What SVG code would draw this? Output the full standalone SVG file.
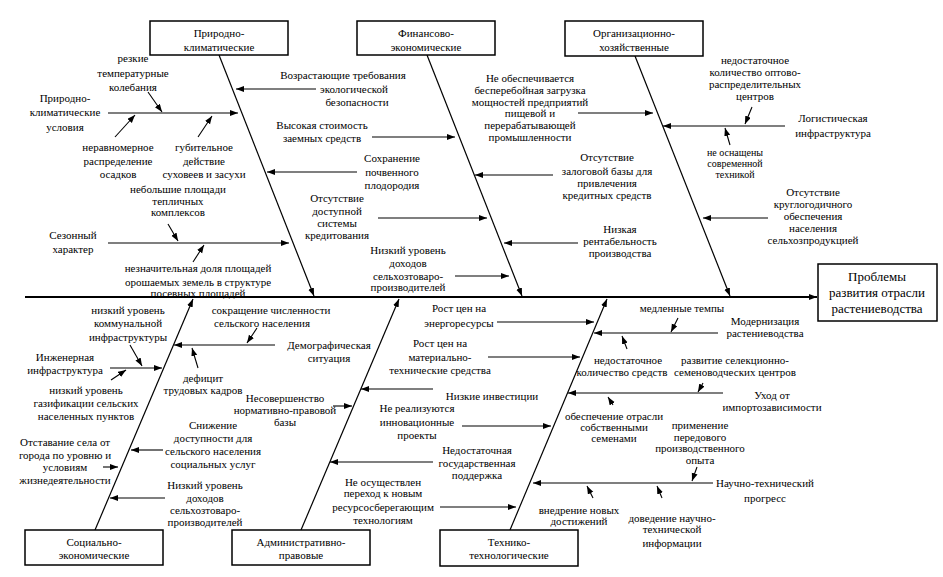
<svg xmlns="http://www.w3.org/2000/svg" width="943" height="577" viewBox="0 0 943 577">
<style>
.t{font-family:"Liberation Serif","Times New Roman",serif;font-size:11px;fill:#000;text-anchor:middle}
.big{font-size:13px}
.sm{font-size:10px}
.box{fill:#fff;stroke:#000;stroke-width:1.5}
.c line{stroke:#000;stroke-width:1.1;marker-end:url(#ah)}
.c .bone{stroke-width:1.2}
.c .spine{stroke-width:1.8}
</style>
<defs>
<marker id="ah" markerUnits="userSpaceOnUse" markerWidth="9" markerHeight="7" refX="8" refY="3" orient="auto"><path d="M0,0 L8,3 L0,6 z" fill="#000"/></marker>
</defs>
<rect width="943" height="577" fill="#fff"/>
<g id="connectors" class="c">
<line class="spine" x1="25" y1="297" x2="817" y2="297"/>
<line class="bone" x1="219" y1="55" x2="314" y2="296"/>
<line class="bone" x1="427" y1="55" x2="522" y2="296"/>
<line class="bone" x1="635" y1="56" x2="730" y2="296"/>
<line class="bone" x1="95" y1="530" x2="193" y2="299"/>
<line class="bone" x1="301" y1="530" x2="399" y2="299"/>
<line class="bone" x1="510" y1="530" x2="607" y2="299"/>
<line x1="108" y1="113" x2="238" y2="113"/>
<line x1="148" y1="92" x2="162" y2="112"/>
<line x1="115" y1="137" x2="135" y2="115"/>
<line x1="198" y1="137" x2="212" y2="116"/>
<line x1="108" y1="243" x2="289" y2="243"/>
<line x1="168" y1="224" x2="178" y2="241"/>
<line x1="193" y1="262" x2="204" y2="245"/>
<line x1="316" y1="89" x2="236" y2="89"/>
<line x1="372" y1="137" x2="455" y2="137"/>
<line x1="357" y1="172" x2="267" y2="172"/>
<line x1="378" y1="218" x2="487" y2="218"/>
<line x1="455" y1="276" x2="509" y2="276"/>
<line x1="578" y1="113" x2="653" y2="113"/>
<line x1="553" y1="175" x2="475" y2="175"/>
<line x1="578" y1="243" x2="504" y2="243"/>
<line x1="785" y1="126" x2="663" y2="126"/>
<line x1="752" y1="107" x2="745" y2="124"/>
<line x1="730" y1="145" x2="725" y2="128"/>
<line x1="768" y1="218" x2="703" y2="218"/>
<line x1="110" y1="368" x2="162" y2="368"/>
<line x1="130" y1="345" x2="142" y2="366"/>
<line x1="111" y1="380" x2="126" y2="370"/>
<line x1="103" y1="467" x2="118" y2="467"/>
<line x1="275" y1="345" x2="174" y2="345"/>
<line x1="257" y1="328" x2="247" y2="343"/>
<line x1="198" y1="368" x2="192" y2="348"/>
<line x1="333" y1="406" x2="352" y2="406"/>
<line x1="163" y1="450" x2="131" y2="450"/>
<line x1="165" y1="498" x2="110" y2="498"/>
<line x1="433" y1="389" x2="361" y2="389"/>
<line x1="433" y1="462" x2="330" y2="462"/>
<line x1="497" y1="322" x2="594" y2="322"/>
<line x1="488" y1="357" x2="580" y2="357"/>
<line x1="462" y1="426" x2="551" y2="426"/>
<line x1="440" y1="507" x2="516" y2="507"/>
<line x1="718" y1="333" x2="594" y2="333"/>
<line x1="678" y1="318" x2="671" y2="332"/>
<line x1="627" y1="349" x2="622" y2="336"/>
<line x1="723" y1="393" x2="568" y2="393"/>
<line x1="703" y1="383" x2="698" y2="392"/>
<line x1="613" y1="405" x2="608" y2="397"/>
<line x1="713" y1="483" x2="533" y2="483"/>
<line x1="697" y1="467" x2="692" y2="481"/>
<line x1="662" y1="498" x2="657" y2="486"/>
<line x1="593" y1="498" x2="587" y2="486"/>
</g>
<g id="box-prirodno"><rect class="box" x="150" y="21" width="138" height="34"/><text class="t" x="219" y="37">Природно-</text><text class="t" x="219" y="51">климатические</text></g>
<g id="box-finansovo"><rect class="box" x="357" y="21" width="138" height="34"/><text class="t" x="426" y="37">Финансово-</text><text class="t" x="426" y="51">экономические</text></g>
<g id="box-organiz"><rect class="box" x="565" y="21" width="138" height="35"/><text class="t" x="634" y="37">Организационно-</text><text class="t" x="634" y="51">хозяйственные</text></g>
<g id="box-problem"><rect class="box" x="818" y="264" width="119" height="57"/><text class="t big" x="877" y="281">Проблемы</text><text class="t big" x="877" y="297">развития отрасли</text><text class="t big" x="877" y="313">растениеводства</text></g>
<g id="box-social"><rect class="box" x="25" y="530" width="138" height="35"/><text class="t" x="94" y="546">Социально-</text><text class="t" x="94" y="559">экономические</text></g>
<g id="box-admin"><rect class="box" x="232" y="530" width="138" height="35"/><text class="t" x="301" y="546">Административно-</text><text class="t" x="301" y="559">правовые</text></g>
<g id="box-tech"><rect class="box" x="440" y="530" width="138" height="36"/><text class="t" x="509" y="546">Технико-</text><text class="t" x="509" y="559">технологические</text></g>

<g id="n-pku"><text class="t" x="65" y="102">Природно-</text><text class="t" x="65" y="116">климатические</text><text class="t" x="65" y="131">условия</text></g>
<g id="n-rezkie"><text class="t" x="133" y="62">резкие</text><text class="t" x="133" y="77">температурные</text><text class="t" x="133" y="91">колебания</text></g>
<g id="n-neravn"><text class="t" x="118" y="151">неравномерное</text><text class="t" x="118" y="165">распределение</text><text class="t" x="118" y="178">осадков</text></g>
<g id="n-gubit"><text class="t" x="204" y="151">губительное</text><text class="t" x="204" y="165">действие</text><text class="t" x="204" y="178">суховеев и засухи</text></g>
<g id="n-nebolsh"><text class="t" x="178" y="193">небольшие площади</text><text class="t" x="178" y="205">тепличных</text><text class="t" x="178" y="216">комплексов</text></g>
<g id="n-sezon"><text class="t" x="73" y="239">Сезонный</text><text class="t" x="73" y="253">характер</text></g>
<g id="n-neznach"><text class="t" x="198" y="272">незначительная доля площадей</text><text class="t" x="198" y="286">орошаемых земель в структуре</text><text class="t" x="198" y="297">посевных площадей</text></g>
<g id="n-vozrast"><text class="t" x="343" y="79">Возрастающие требования</text><text class="t" x="354" y="93">экологической</text><text class="t" x="357" y="106">безопасности</text></g>
<g id="n-vysok"><text class="t" x="322" y="129">Высокая стоимость</text><text class="t" x="322" y="142">заемных средств</text></g>
<g id="n-sohran"><text class="t" x="392" y="162">Сохранение</text><text class="t" x="392" y="176">почвенного</text><text class="t" x="392" y="189">плодородия</text></g>
<g id="n-otsdost"><text class="t" x="337" y="202">Отсутствие</text><text class="t" x="337" y="215">доступной</text><text class="t" x="337" y="227">системы</text><text class="t" x="337" y="239">кредитования</text></g>
<g id="n-nizdoh1"><text class="t" x="408" y="254">Низкий уровень</text><text class="t" x="408" y="267">доходов</text><text class="t" x="408" y="280">сельхозтоваро-</text><text class="t" x="408" y="291">производителей</text></g>
<g id="n-neobesp"><text class="t" x="530" y="82">Не обеспечивается</text><text class="t" x="530" y="94">бесперебойная загрузка</text><text class="t" x="530" y="106">мощностей предприятий</text><text class="t" x="530" y="117">пищевой и</text><text class="t" x="530" y="129">перерабатывающей</text><text class="t" x="530" y="141">промышленности</text></g>
<g id="n-zalog"><text class="t" x="607" y="161">Отсутствие</text><text class="t" x="607" y="175">залоговой базы для</text><text class="t" x="607" y="187">привлечения</text><text class="t" x="607" y="199">кредитных средств</text></g>
<g id="n-rentab"><text class="t" x="620" y="233">Низкая</text><text class="t" x="620" y="245">рентабельность</text><text class="t" x="620" y="257">производства</text></g>
<g id="n-logist"><text class="t" x="833" y="122">Логистическая</text><text class="t" x="833" y="137">инфраструктура</text></g>
<g id="n-optovo"><text class="t" x="755" y="64">недостаточное</text><text class="t" x="755" y="76">количество оптово-</text><text class="t" x="755" y="88">распределительных</text><text class="t" x="755" y="100">центров</text></g>
<g id="n-osnasch"><text class="t sm" x="735" y="156">не оснащены</text><text class="t sm" x="735" y="167">современной</text><text class="t sm" x="735" y="178">техникой</text></g>
<g id="n-kruglo"><text class="t" x="813" y="196">Отсутствие</text><text class="t" x="813" y="208">круглогодичного</text><text class="t" x="813" y="220">обеспечения</text><text class="t" x="813" y="232">населения</text><text class="t" x="813" y="244">сельхозпродукцией</text></g>
<g id="n-kommun"><text class="t" x="128" y="314">низкий уровень</text><text class="t" x="128" y="327">коммунальной</text><text class="t" x="128" y="341">инфраструктуры</text></g>
<g id="n-inzh"><text class="t" x="65" y="361">Инженерная</text><text class="t" x="65" y="374">инфраструктура</text></g>
<g id="n-gazif"><text class="t" x="86" y="394">низкий уровень</text><text class="t" x="86" y="407">газификации сельских</text><text class="t" x="86" y="420">населенных пунктов</text></g>
<g id="n-otstav"><text class="t" x="65" y="446">Отставание села от</text><text class="t" x="65" y="459">города по уровню и</text><text class="t" x="65" y="471">условиям</text><text class="t" x="65" y="484">жизнедеятельности</text></g>
<g id="n-sokr"><text class="t" x="271" y="314">сокращение численности</text><text class="t" x="262" y="327">сельского населения</text></g>
<g id="n-demogr"><text class="t" x="329" y="349">Демографическая</text><text class="t" x="329" y="362">ситуация</text></g>
<g id="n-defic"><text class="t" x="203" y="382">дефицит</text><text class="t" x="203" y="394">трудовых кадров</text></g>
<g id="n-nesov"><text class="t" x="285" y="402">Несовершенство</text><text class="t" x="285" y="414">нормативно-правовой</text><text class="t" x="285" y="426">базы</text></g>
<g id="n-snizh"><text class="t" x="213" y="429">Снижение</text><text class="t" x="213" y="442">доступности для</text><text class="t" x="213" y="455">сельского населения</text><text class="t" x="213" y="468">социальных услуг</text></g>
<g id="n-nizdoh2"><text class="t" x="205" y="489">Низкий уровень</text><text class="t" x="205" y="502">доходов</text><text class="t" x="205" y="514">сельхозтоваро-</text><text class="t" x="205" y="526">производителей</text></g>
<g id="n-invest"><text class="t" x="492" y="400">Низкие инвестиции</text></g>
<g id="n-gospod"><text class="t" x="477" y="454">Недостаточная</text><text class="t" x="477" y="467">государственная</text><text class="t" x="477" y="479">поддержка</text></g>
<g id="n-energ"><text class="t" x="459" y="312">Рост цен на</text><text class="t" x="459" y="327">энергоресурсы</text></g>
<g id="n-mater"><text class="t" x="440" y="347">Рост цен на</text><text class="t" x="440" y="361">материально-</text><text class="t" x="440" y="374">технические средства</text></g>
<g id="n-innov"><text class="t" x="417" y="412">Не реализуются</text><text class="t" x="417" y="426">инновационные</text><text class="t" x="417" y="439">проекты</text></g>
<g id="n-resurs"><text class="t" x="383" y="486">Не осуществлен</text><text class="t" x="383" y="497">переход к новым</text><text class="t" x="383" y="511">ресурсосберегающим</text><text class="t" x="383" y="524">технологиям</text></g>
<g id="n-medl"><text class="t" x="682" y="312">медленные темпы</text></g>
<g id="n-modern"><text class="t" x="765" y="325">Модернизация</text><text class="t" x="765" y="337">растениеводства</text></g>
<g id="n-nedsr"><text class="t" x="628" y="364">недостаточное</text><text class="t" x="622" y="376">количество средств</text></g>
<g id="n-selek"><text class="t" x="735" y="364">развитие селекционно-</text><text class="t" x="735" y="376">семеноводческих центров</text></g>
<g id="n-uhod"><text class="t" x="772" y="399">Уход от</text><text class="t" x="772" y="411">импортозависимости</text></g>
<g id="n-obesp"><text class="t" x="614" y="420">обеспечение отрасли</text><text class="t" x="614" y="431">собственными</text><text class="t" x="614" y="442">семенами</text></g>
<g id="n-primen"><text class="t" x="700" y="429">применение</text><text class="t" x="700" y="441">передового</text><text class="t" x="700" y="452">производственного</text><text class="t" x="700" y="464">опыта</text></g>
<g id="n-ntp"><text class="t" x="765" y="487">Научно-технический</text><text class="t" x="765" y="502">прогресс</text></g>
<g id="n-doved"><text class="t" x="672" y="522">доведение научно-</text><text class="t" x="672" y="533">технической</text><text class="t" x="672" y="547">информации</text></g>
<g id="n-vnedr"><text class="t" x="579" y="514">внедрение новых</text><text class="t" x="579" y="525">достижений</text></g>
</svg>
